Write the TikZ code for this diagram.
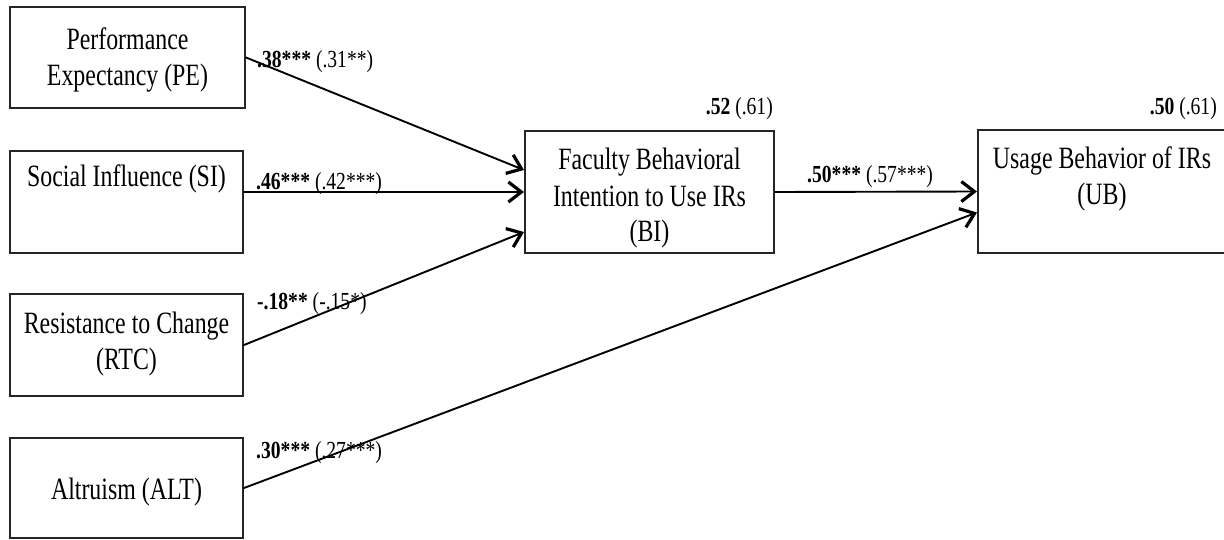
\documentclass[tikz,border=0pt]{standalone}
\usepackage{fontspec}
\setmainfont{Liberation Serif}
\newfontfamily\boxfont{Liberation Serif}[FakeStretch=0.77]
\newfontfamily\lblfont{Liberation Serif}[FakeStretch=0.8]
\usetikzlibrary{arrows.meta,calc}
\tikzset{
  box/.style={draw=black!85, line width=2pt, align=center,
    font=\boxfont\fontsize{31}{36}\selectfont, inner sep=0pt},
  conn/.style={line width=1.9pt, line cap=round,
    -{Straight Barb[length=13pt,width=20pt,line width=3.2pt]}},
  coef/.style={font=\lblfont\fontsize{24.5}{28}\selectfont, inner sep=0pt},
}
\begin{document}
\begin{tikzpicture}[x=1pt, y=-1pt]
\useasboundingbox (0,0) rectangle (1224,540);
% boxes
\node[box, minimum width=235pt, minimum height=101pt, text height=58pt, text depth=1pt] (PE) at (127.5,57.5) {Performance\\Expectancy (PE)};
\node[box, minimum width=233pt, minimum height=102pt, text height=22pt, text depth=52pt] (SI) at (126.5,202) {Social Influence (SI)};
\node[box, minimum width=233pt, minimum height=102pt, text height=58pt, text depth=10pt] (RTC) at (126.5,345) {Resistance to Change\\(RTC)};
\node[box, minimum width=233pt, minimum height=100pt, text height=22pt, text depth=0pt] (ALT) at (126.5,488) {Altruism (ALT)};
\node[box, minimum width=249pt, minimum height=122pt, text height=100pt, text depth=0pt] (BI) at (649.5,192) {Faculty Behavioral\\Intention to Use IRs\\(BI)};
\node[box, minimum width=248pt, minimum height=123pt, text height=58pt, text depth=31pt] (UB) at (1102,191.5) {Usage Behavior of IRs\\(UB)};
% coefficients
\node[coef, anchor=base west] (l1) at (257,68) {\textbf{.38***} (.31**)};
\node[coef, anchor=base west] (l2) at (256,190) {\textbf{.46***} (.42***)};
\node[coef, anchor=base west] (l3) at (257,309) {\textbf{-.18**} (-.15*)};
\node[coef, anchor=base west] (l4) at (256,458) {\textbf{.30***} (.27***)};
\node[coef, anchor=base west] (l5) at (807,183) {\textbf{.50***} (.57***)};
\node[coef, anchor=base east] (l6) at (773,115) {\textbf{.52} (.61)};
\node[coef, anchor=base east] (l7) at (1217,115) {\textbf{.50} (.61)};
% connectors
\draw[conn] (PE.east) -- ($(BI.west)+(0,-22)$);
\draw[conn] (SI.east |- BI.west) -- (BI.west);
\draw[conn] (RTC.east) -- ($(BI.west)+(0,40)$);
\draw[conn] (BI.east) -- (UB.west);
\draw[conn] (ALT.east) -- ($(UB.west)+(0,21)$);
\end{tikzpicture}
\end{document}
